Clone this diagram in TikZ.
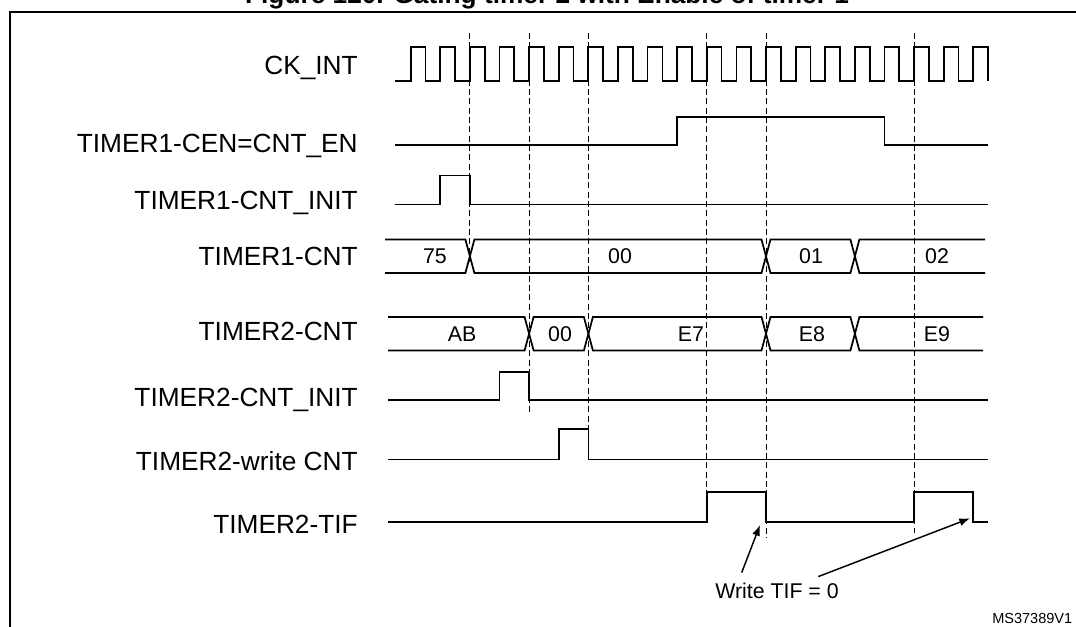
\documentclass[tikz,border=0pt]{standalone}
\usepackage{fontspec}
\setmainfont{Liberation Sans}
\usepackage{tikz}
\usetikzlibrary{arrows.meta,calc}

\begin{document}
\begin{tikzpicture}[
      x=0.75pt, y=-0.75pt,
      sig/.style={line width=1.3pt, line join=miter},
      frame/.style={line width=1.5pt},
      grid/.style={line width=0.75pt, dash pattern=on 4.5pt off 2.5pt},
      lbl/.style={anchor=base east, inner sep=0pt, font=\fontsize{19.7}{22}\selectfont},
      val/.style={inner sep=0pt, font=\fontsize{16}{18}\selectfont},
      note/.style={anchor=base west, inner sep=0pt, font=\fontsize{16}{18}\selectfont},
      arr/.style={-{Latex[length=8pt,width=6pt]}, line width=1.1pt}
    ]
    \useasboundingbox (0,0) rectangle (1076,626);
    \draw[frame] (10,12) rectangle (1082,640);
    \node[anchor=base, inner sep=0pt, font=\fontsize{19.7}{22}\selectfont\bfseries] (title) at (547,3.5)
      {Figure 120. Gating timer 2 with Enable of timer 1};

    \node[lbl] (ckint) at (358,74) {CK\_INT};
    \node[lbl] (cen) at (358,152.7) {TIMER1-CEN=CNT\_EN};
    \node[lbl] (init1) at (358,209) {TIMER1-CNT\_INIT};
    \node[lbl] (cnt1) at (358,265) {TIMER1-CNT};
    \node[lbl] (cnt2) at (358,340.5) {TIMER2-CNT};
    \node[lbl] (init2) at (358,406.7) {TIMER2-CNT\_INIT};
    \node[lbl] (wcnt) at (358,470) {TIMER2-write CNT};
    \node[lbl] (tif) at (358,533) {TIMER2-TIF};

    \foreach \x/\yb in {469.9/262, 529.1/412, 588.4/460, 706.8/492, 766/538, 914/533}
      \draw[grid] (\x,33) -- (\x,\yb);

    \draw[sig] (395,81.3) \foreach \k in {0,...,19}{
      -- ({410.7+29.61*\k},81.3) -- ({410.7+29.61*\k},47.3)
      -- ({425.5+29.61*\k},47.3) -- ({425.5+29.61*\k},81.3)};

    \draw[sig] (395,145) -- (677.2,145) -- (677.2,117.3) -- (884.5,117.3) -- (884.5,145) -- (988,145);
    \draw[sig] (395,204.5) -- (440.3,204.5) -- (440.3,175.5) -- (469.9,175.5) -- (469.9,204.5) -- (988,204.5);

    \draw[sig] (385,239.5) -- (465.4,239.5) -- (474.4,273) -- (761.5,273) -- (770.5,239.5)
      -- (850.4,239.5) -- (859.4,273) -- (985,273);
    \draw[sig] (385,273) -- (465.4,273) -- (474.4,239.5) -- (761.5,239.5) -- (770.5,273)
      -- (850.4,273) -- (859.4,239.5) -- (985,239.5);
    \node[val] (v75) at (435,256) {75};
    \node[val] (v00a) at (620,256) {00};
    \node[val] (v01) at (811,256) {01};
    \node[val] (v02) at (937,256) {02};

    \draw[sig] (388,317) -- (524.6,317) -- (533.6,350.5) -- (583.9,350.5) -- (592.9,317)
      -- (761.5,317) -- (770.5,350.5) -- (850.4,350.5) -- (859.4,317) -- (983,317);
    \draw[sig] (388,350.5) -- (524.6,350.5) -- (533.6,317) -- (583.9,317) -- (592.9,350.5)
      -- (761.5,350.5) -- (770.5,317) -- (850.4,317) -- (859.4,350.5) -- (983,350.5);
    \node[val] (vab) at (462,334) {AB};
    \node[val] (v00b) at (560,334) {00};
    \node[val] (ve7) at (691,334) {E7};
    \node[val] (ve8) at (812,334) {E8};
    \node[val] (ve9) at (937,334) {E9};

    \draw[sig] (388,400) -- (499.5,400) -- (499.5,372) -- (529.1,372) -- (529.1,400) -- (988,400);
    \draw[sig] (388,459.5) -- (558.8,459.5) -- (558.8,429) -- (588.4,429) -- (588.4,459.5) -- (988,459.5);
    \draw[sig] (388,521.7) -- (706.8,521.7) -- (706.8,491.7) -- (766,491.7) -- (766,521.7)
      -- (914,521.7) -- (914,491.7) -- (973.3,491.7) -- (973.3,521.7) -- (988,521.7);

    \node[note] (wtif) at (715,598.3) {Write TIF = 0};
    \coordinate (clr1) at (760,525);
    \coordinate (clr2) at (970,518.3);
    \draw[arr] ($(wtif.north west)+(26.7,-10)$) -- (clr1);
    \draw[arr] ($(wtif.north west)+(103.3,-6)$) -- (clr2);

    \node[anchor=base west, inner sep=0pt, font=\fontsize{10.9}{12}\selectfont] (msid) at (992,623.3) {MS37389V1};
  \end{tikzpicture}
\end{document}
